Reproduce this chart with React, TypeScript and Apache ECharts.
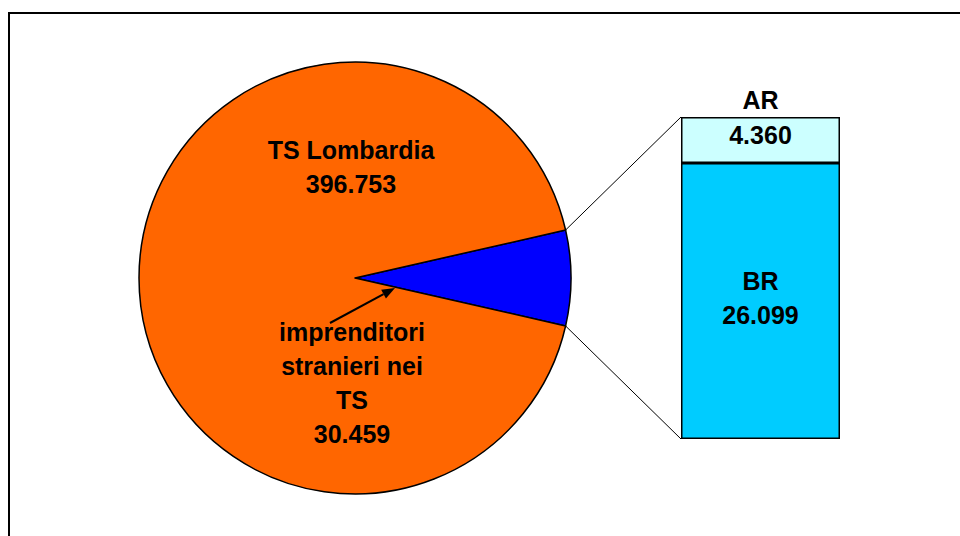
import { useEffect, useRef } from 'react';
import * as echarts from 'echarts';

const pieNames = ['imprenditori\nstranieri nei\nTS', 'TS Lombardia'];
const pieValues = [30459, 396753];
const pieColors = ['#0000FF', '#FF6600'];
const barCategories = ['TS'];
const barNames = ['BR', 'AR'];
const barValues = [26099, 4360];
const barColors = ['#00CCFF', '#CCFFFF'];

const fmt = (n: number) => String(n).replace(/\B(?=(\d{3})+(?!\d))/g, '.');
const FONT = '"Liberation Sans", Arial, sans-serif';

export default function App() {
  const ref = useRef<HTMLDivElement>(null);
  useEffect(() => {
    document.body.style.margin = '0';
    const chart = echarts.init(ref.current!, null, { renderer: 'svg' });
    const cx = 355, cy = 278, r = 216;
    const total = pieValues.reduce((a, b) => a + b, 0);
    const half = (pieValues[0] / total) * 180;
    const rad = (half * Math.PI) / 180;
    const up = [cx + r * Math.cos(rad), cy - r * Math.sin(rad)];
    const lo = [cx + r * Math.cos(rad), cy + r * Math.sin(rad)];
    const gl = 681, gt = 117, gw = 159, gh = 322;
    const barTotal = barValues.reduce((a, b) => a + b, 0);

    // arrow
    const a0 = [330, 323], a1 = [395, 288];
    const dx = a1[0] - a0[0], dy = a1[1] - a0[1];
    const len = Math.hypot(dx, dy);
    const ux = dx / len, uy = dy / len;
    const hl = 13, hw = 5;
    const base = [a1[0] - ux * hl, a1[1] - uy * hl];
    const head = [
      a1,
      [base[0] - uy * hw, base[1] + ux * hw],
      [base[0] + uy * hw, base[1] - ux * hw],
    ];

    const txt = { fontFamily: FONT, fontWeight: 'bold', fontSize: 25, fill: '#000', align: 'center', verticalAlign: 'middle', lineHeight: 34 };

    chart.setOption({
      animation: false,
      grid: { left: gl, top: gt, width: gw, height: gh },
      xAxis: { type: 'category', data: barCategories, show: false },
      yAxis: { type: 'value', min: 0, max: barTotal, show: false },
      series: [
        {
          type: 'pie',
          center: [cx, cy],
          radius: r,
          startAngle: half,
          clockwise: true,
          silent: true,
          label: { show: false },
          labelLine: { show: false },
          itemStyle: { borderColor: '#000', borderWidth: 1.5 },
          emphasis: { disabled: true },
          data: pieValues.map((v, i) => ({ value: v, name: pieNames[i], itemStyle: { color: pieColors[i] } })),
        },
        ...barValues.map((v, i) => ({
          type: 'bar',
          name: barNames[i],
          stack: 'ts',
          barWidth: '100%',
          silent: true,
          data: [v],
          itemStyle: { color: barColors[i], borderColor: '#000', borderWidth: 1.5 },
          label: {
            show: true,
            position: 'inside',
            offset: [0, i === 0 ? -3 : -5],
            formatter: i === 0 ? `${barNames[i]}\n${fmt(v)}` : fmt(v),
            fontFamily: FONT,
            fontWeight: 'bold',
            fontSize: 25,
            color: '#000',
            lineHeight: 34,
          },
        })),
      ],
      graphic: [
        { type: 'rect', shape: { x: 9, y: 13, width: 1200, height: 800 }, style: { fill: 'none', stroke: '#000', lineWidth: 2 }, z: 100, silent: true },
        { type: 'line', shape: { x1: up[0], y1: up[1], x2: gl, y2: gt }, style: { stroke: '#000', lineWidth: 1 }, z: 100 },
        { type: 'line', shape: { x1: lo[0], y1: lo[1], x2: gl, y2: gt + gh }, style: { stroke: '#000', lineWidth: 1 }, z: 100 },
        { type: 'line', shape: { x1: a0[0], y1: a0[1], x2: base[0], y2: base[1] }, style: { stroke: '#000', lineWidth: 2 }, z: 100 },
        { type: 'polygon', shape: { points: head }, style: { fill: '#000' }, z: 100 },
        { type: 'text', x: 351, y: 167, style: { ...txt, text: `${pieNames[1]}\n${fmt(pieValues[1])}` }, z: 100 },
        { type: 'text', x: 352, y: 383, style: { ...txt, text: `${pieNames[0]}\n${fmt(pieValues[0])}` }, z: 100 },
        { type: 'text', x: gl + gw / 2, y: 100, style: { ...txt, text: barNames[1] }, z: 100 },
      ],
    });
    return () => chart.dispose();
  }, []);
  return <div ref={ref} style={{ width: 960, height: 536 }} />;
}
